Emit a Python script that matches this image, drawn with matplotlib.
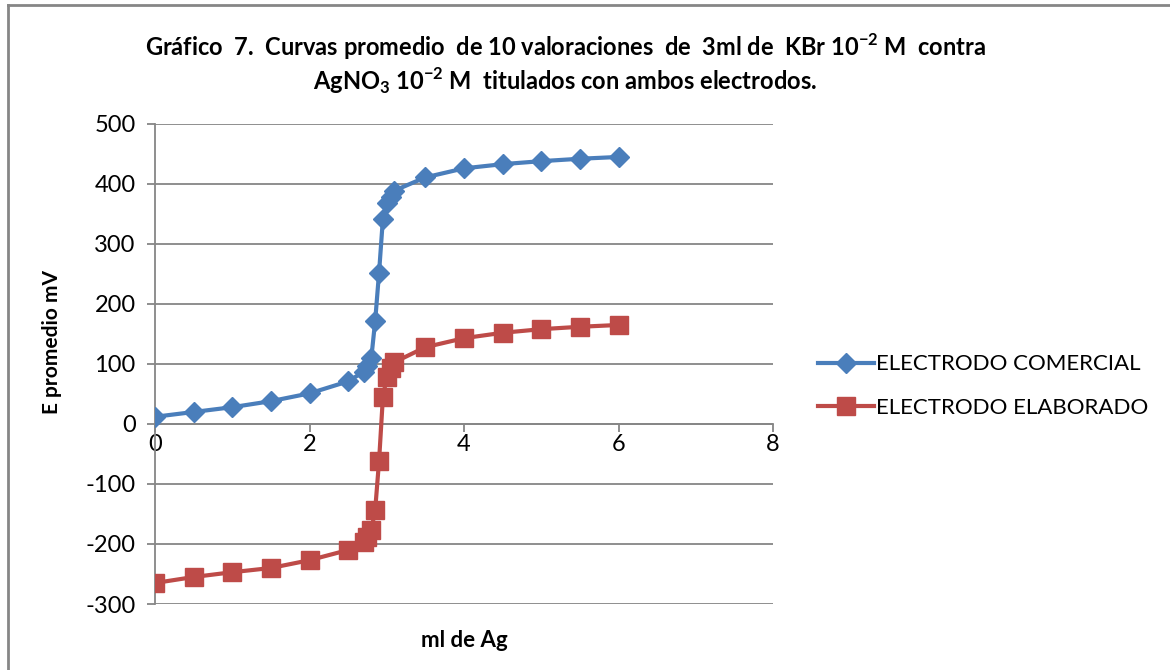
import matplotlib
matplotlib.use("Agg")
import matplotlib.pyplot as plt
from matplotlib.lines import Line2D

plt.rcParams['font.family'] = ['Lato', 'DejaVu Sans']
plt.rcParams['mathtext.fontset'] = 'custom'
plt.rcParams['mathtext.rm'] = 'Lato'
plt.rcParams['mathtext.bf'] = 'Lato:bold'
plt.rcParams['axes.unicode_minus'] = False

# datos
ml_ag = [0, 0.5, 1, 1.5, 2, 2.5, 2.7, 2.75, 2.8, 2.85, 2.9, 2.95, 3.0, 3.05, 3.1,
         3.5, 4, 4.5, 5, 5.5, 6]
e_comercial = [12, 20, 28, 38, 51, 71, 87, 97, 110, 172, 252, 342, 368, 378, 389,
               411, 426, 433, 438, 442, 445]
e_elaborado = [-265, -255, -247, -240, -227, -210, -197, -188, -177, -143, -62, 45,
               78, 93, 103, 128, 143, 152, 158, 162, 165]

azul = '#4A7EBB'
rojo = '#BE4B48'
gris = '#868686'

fig = plt.figure(figsize=(11.7, 6.7), dpi=100)
ax = fig.add_axes([0.1325, 0.0985, 0.5282, 0.7165])

ax.plot(ml_ag, e_comercial, color=azul, lw=3, marker='D', ms=10,
        label='ELECTRODO COMERCIAL', zorder=3)
ax.plot(ml_ag, e_elaborado, color=rojo, lw=3, marker='s', ms=13,
        label='ELECTRODO ELABORADO', zorder=3)

ax.set_xlim(0, 8)
ax.set_ylim(-300, 500)
ax.set_yticks(range(-300, 501, 100))
ax.set_xticks([0, 2, 4, 6, 8])
ax.grid(axis='y', color=gris, lw=1.3)
ax.set_axisbelow(True)

for s in ['top', 'right']:
    ax.spines[s].set_visible(False)
ax.spines['left'].set_color(gris)
ax.spines['left'].set_linewidth(1.3)
ax.spines['bottom'].set_position(('data', 0))
ax.spines['bottom'].set_color(gris)
ax.spines['bottom'].set_linewidth(1.3)
ax.tick_params(axis='y', direction='out', length=6, color=gris, width=1.3,
               labelsize=17, pad=8)
ax.tick_params(axis='x', direction='out', length=6, color=gris, width=1.3,
               labelsize=17, pad=1)

ax.set_ylabel('E promedio mV', fontsize=15, fontweight='bold')
ax.yaxis.set_label_coords(-0.15, 0.545)
ax.set_xlabel('ml de Ag', fontsize=16, fontweight='bold')
ax.xaxis.set_label_coords(0.5, -0.055)

fig.text(0.483, 0.93,
         r'Gráfico  7.  Curvas promedio  de 10 valoraciones  de  3ml de  KBr 10$^{\mathbf{-2}}$ M  contra',
         ha='center', va='center', fontsize=17, fontweight='bold')
fig.text(0.483, 0.88,
         r'AgNO$_{\mathbf{3}}$ 10$^{\mathbf{-2}}$ M  titulados con ambos electrodos.',
         ha='center', va='center', fontsize=17, fontweight='bold')

ax.legend(loc='center left', bbox_to_anchor=(818 / 1170, 1 - 386 / 670),
          bbox_transform=fig.transFigure, frameon=False, fontsize=16,
          handlelength=2.5, handletextpad=0.1, labelspacing=1.05,
          borderaxespad=0, borderpad=0)

# marco exterior
fig.add_artist(Line2D([0.007, 0.007], [0, 0.993], color=gris, lw=2,
                      transform=fig.transFigure))
fig.add_artist(Line2D([0.007, 1], [0.993, 0.993], color=gris, lw=2,
                      transform=fig.transFigure))

fig.savefig('out.png', dpi=100)
